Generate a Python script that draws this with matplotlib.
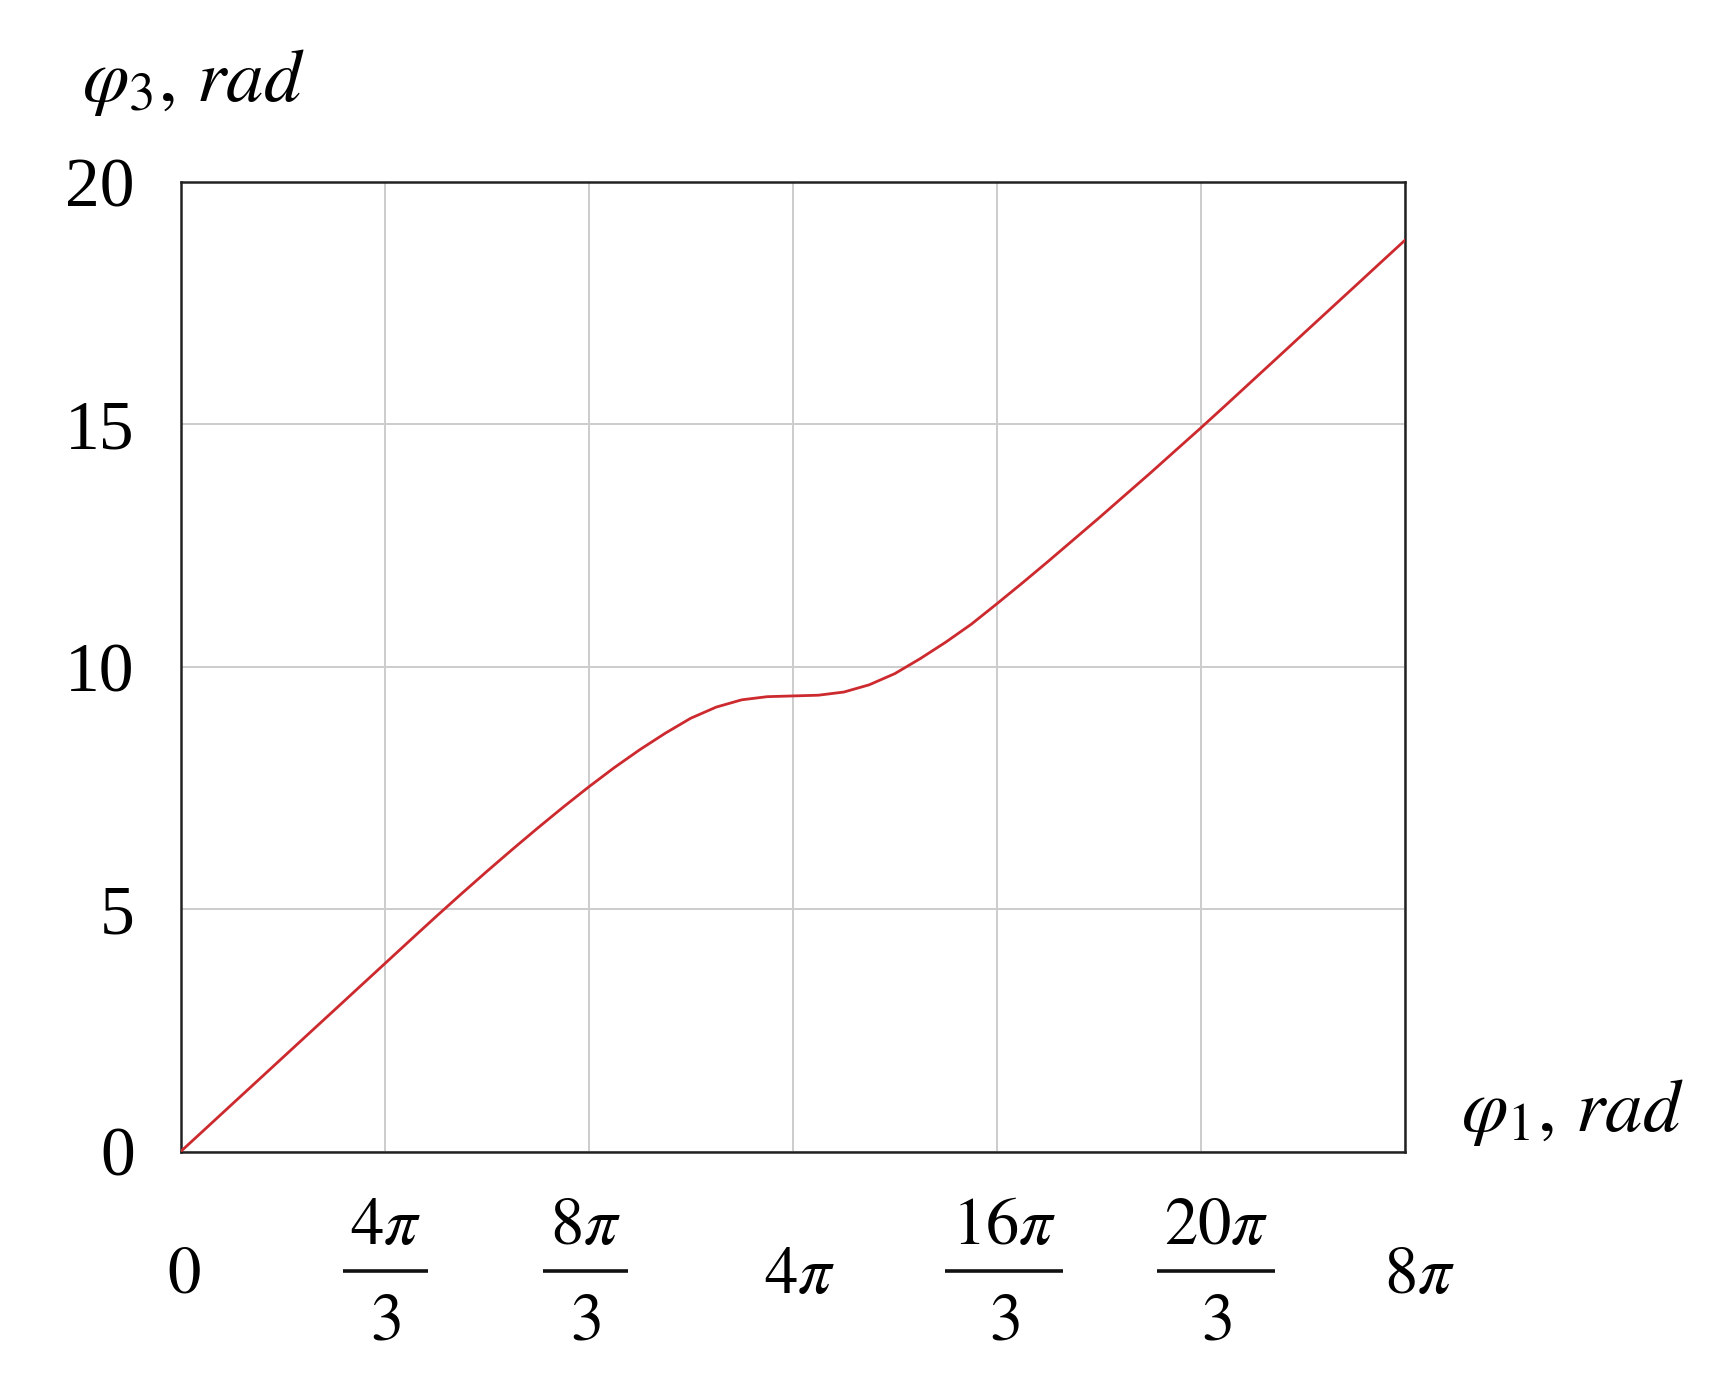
import numpy as np
import matplotlib
matplotlib.use("Agg")
import matplotlib.pyplot as plt
from matplotlib.transforms import blended_transform_factory, ScaledTranslation
from matplotlib.lines import Line2D

# ---- data (phi1 in rad, phi3 in rad) ----
phi1 = [0.000, 0.524, 1.047, 1.571, 2.094, 2.618, 3.142, 3.665, 4.189, 4.712,
        5.236, 5.760, 6.283, 6.807, 7.330, 7.854, 8.378, 8.901, 9.425, 9.948,
        10.472, 10.996, 11.519, 12.043, 12.566, 13.090, 13.614, 14.137, 14.661,
        15.184, 15.708, 16.232, 16.755, 17.279, 17.802, 18.326, 18.850, 19.373,
        19.897, 20.420, 20.944, 21.468, 21.991, 22.515, 23.038, 23.562, 24.086,
        24.609, 25.133]
phi3 = [0.000, 0.484, 0.969, 1.453, 1.937, 2.422, 2.906, 3.390, 3.875, 4.359,
        4.841, 5.314, 5.777, 6.231, 6.674, 7.106, 7.523, 7.920, 8.290, 8.630,
        8.940, 9.170, 9.320, 9.385, 9.400, 9.415, 9.480, 9.630, 9.860,
        10.170, 10.510, 10.880, 11.300, 11.730, 12.170, 12.620, 13.070, 13.530,
        13.990, 14.460, 14.930, 15.410, 15.894, 16.378, 16.863, 17.347, 17.831,
        18.316, 18.800]

x_tick_thirds = [0, 4, 8, 12, 16, 20, 24]          # multiples of pi/3
x_tick_num = [r'$0$', r'$4\pi$', r'$8\pi$', r'$4\pi$', r'$16\pi$', r'$20\pi$', r'$8\pi$']
x_tick_den = [None, r'$3$', r'$3$', None, r'$3$', r'$3$', None]
y_ticks = [0, 5, 10, 15, 20]
y_tick_labels = ['0', '5', '10', '15', '20']

# small horizontal nudges of the x tick labels seen in the reference (pixels)
x_label_dx = [3, 1, -3, 7, 7, 15, 15]

plt.rcParams['font.family'] = 'serif'
plt.rcParams['font.serif'] = ['Liberation Serif', 'DejaVu Serif']
plt.rcParams['mathtext.fontset'] = 'stix'

W, H = 1722, 1393
fig = plt.figure(figsize=(W / 100, H / 100), dpi=100)
ax = fig.add_axes([180.5 / W, 1 - 1151.7 / H, (1405 - 180.5) / W, (1151.7 - 182) / H])

ax.plot(phi1, phi3, color='#cc2a2e', lw=2.0, zorder=3)
ax.set_xlim(0, 8 * np.pi)
ax.set_ylim(0, 20)
xt = np.array(x_tick_thirds) * np.pi / 3
ax.set_xticks(xt, [''] * len(xt))
ax.set_yticks(y_ticks, y_tick_labels)
ax.grid(True, color='#cccccc', lw=1.4)
ax.set_axisbelow(True)
ax.tick_params(length=0, labelsize=50)
ax.tick_params(axis='y', pad=33)
for s in ax.spines.values():
    s.set_color('#222222')
    s.set_linewidth(1.8)

FS = 48
base = blended_transform_factory(ax.transData, ax.transAxes)


def at(x, dx_px, dy_px):
    return base + ScaledTranslation(dx_px / 100, dy_px / 100, fig.dpi_scale_trans)


num_texts = []
for x, num, den, dx in zip(xt, x_tick_num, x_tick_den, x_label_dx):
    if den is None:
        ax.text(x, 0, num, transform=at(x, dx, -141), ha='center', va='baseline', fontsize=FS)
        num_texts.append(None)
    else:
        t = ax.text(x, 0, num, transform=at(x, dx, -92), ha='center', va='baseline', fontsize=FS)
        ax.text(x, 0, den, transform=at(x, dx, -188), ha='center', va='baseline', fontsize=FS)
        num_texts.append(t)

fig.canvas.draw()
r = fig.canvas.get_renderer()
for x, t, dx in zip(xt, num_texts, x_label_dx):
    if t is None:
        continue
    hw = t.get_window_extent(r).width / 2 + 7
    tr = fig.dpi_scale_trans + ScaledTranslation(x, 0, base)
    bar = Line2D([(dx - hw) / 100, (dx + hw) / 100], [-1.19, -1.19], transform=tr,
                 color='#111111', lw=2.6, solid_capstyle='butt')
    fig.add_artist(bar)

fig.text(82 / W, 1 - 101 / H, r'$\varphi_3,\,rad$', fontsize=54, ha='left', va='baseline')
fig.text(1461 / W, 1 - 1131 / H, r'$\varphi_1,\,rad$', fontsize=54, ha='left', va='baseline')

fig.savefig('out.png', dpi=100)
